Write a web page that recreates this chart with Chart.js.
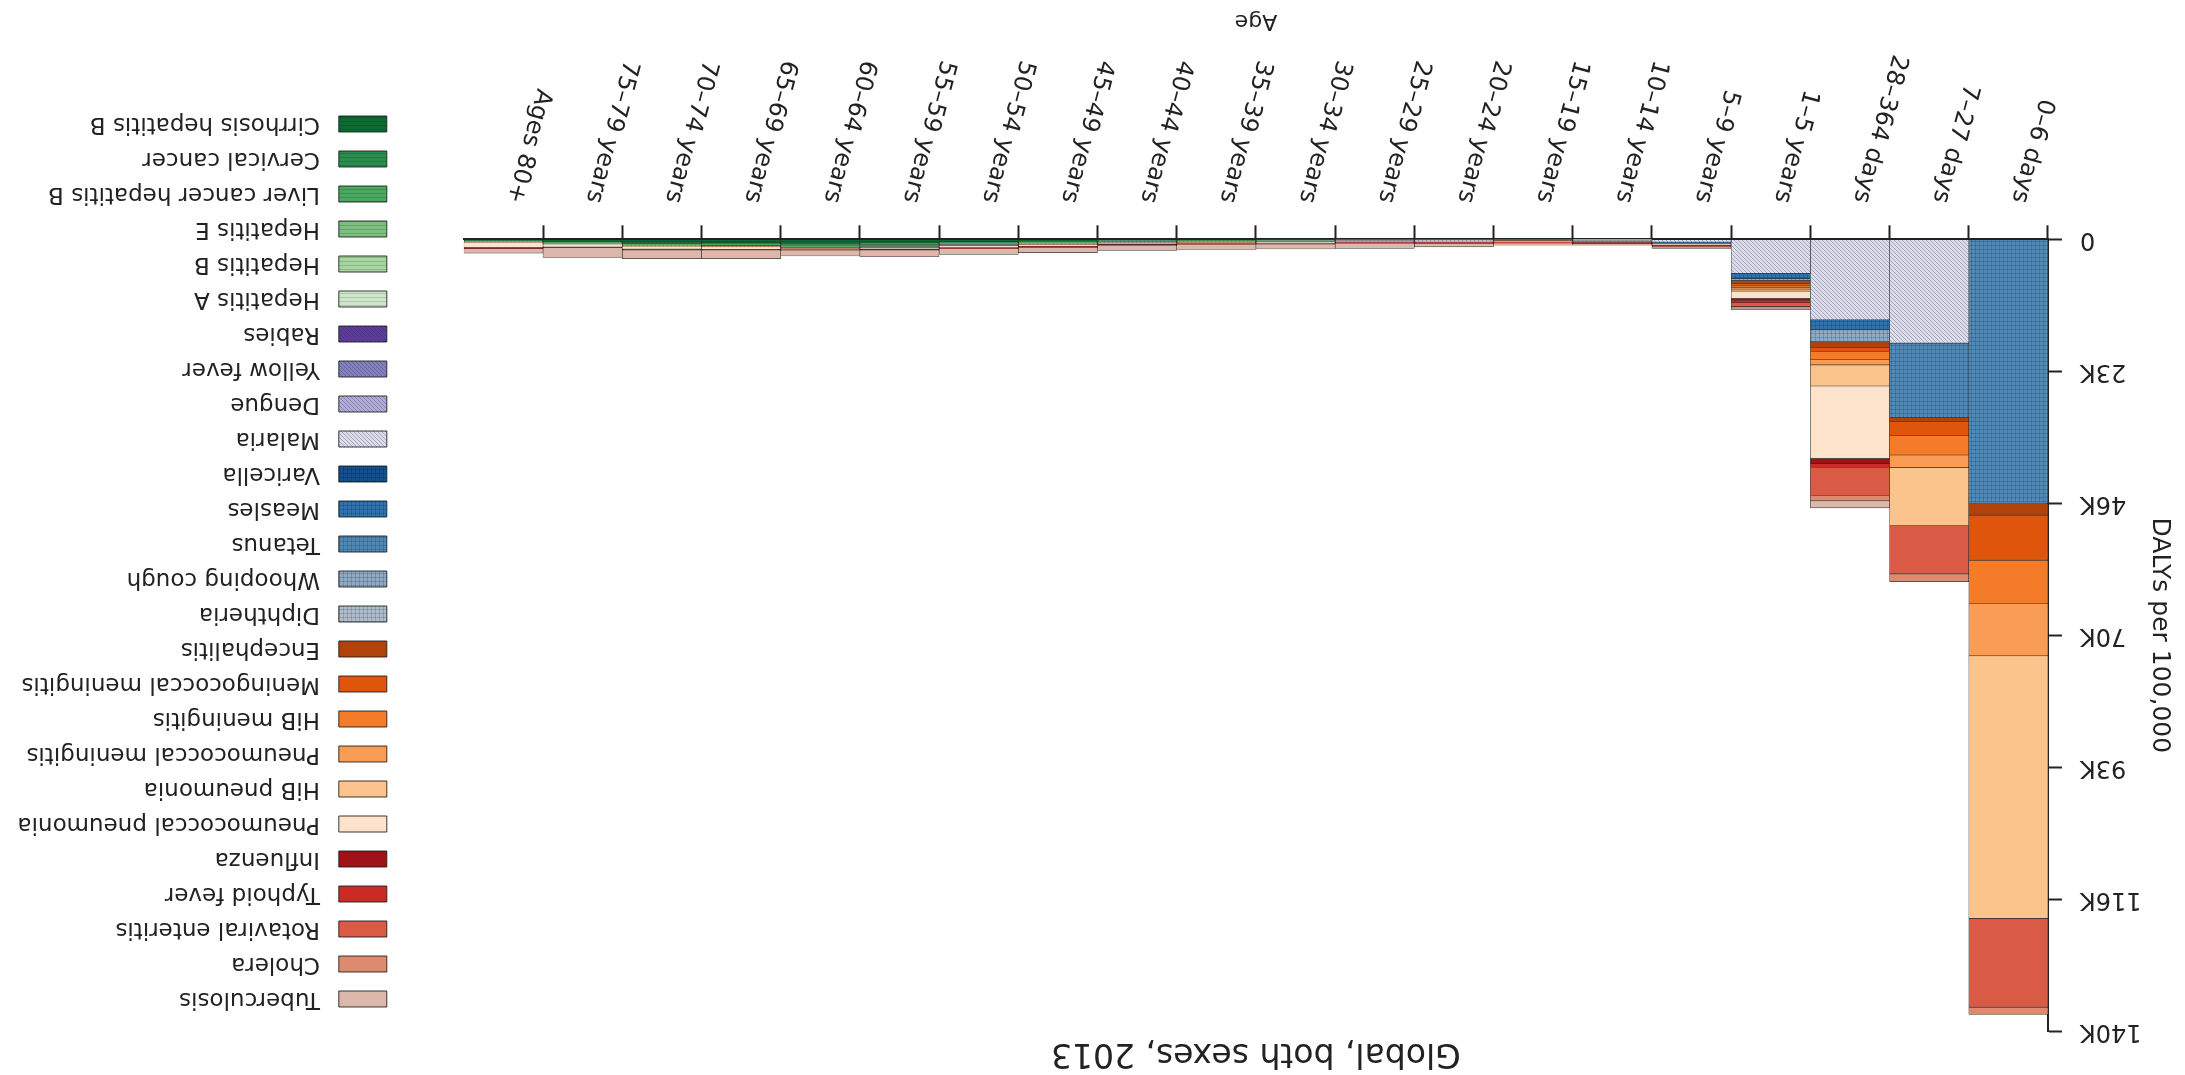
<!DOCTYPE html>
<html>
<head>
<meta charset="utf-8">
<title>DALYs per 100,000 by age, global, both sexes, 2013</title>
<script src="https://cdn.jsdelivr.net/npm/chart.js@4.4.1/dist/chart.umd.min.js"></script>
<style>
  html, body { margin: 0; padding: 0; background: #fff; }
  #wrap { width: 2185px; height: 1075px; transform: rotate(180deg); }
</style>
</head>
<body>
<div id="wrap"><canvas id="chart" width="2185" height="1075"></canvas></div>
<script>
// age groups (x axis)
const ageGroups = ['0–6 days', '7–27 days', '28–364 days', '1–5 years', '5–9 years', '10–14 years',
  '15–19 years', '20–24 years', '25–29 years', '30–34 years', '35–39 years', '40–44 years',
  '45–49 years', '50–54 years', '55–59 years', '60–64 years', '65–69 years', '70–74 years',
  '75–79 years', 'Ages 80+'];

// y axis ticks
const yTickValues = [0, 23333, 46667, 70000, 93333, 116667, 140000];
const yTickLabels = ['0', '23K', '46K', '70K', '93K', '116K', '140K'];

// DALYs per 100,000, one array per cause (stack order, bottom first)
const cirrhosisHepB   = [0, 0, 0, 0, 0, 0, 5, 20, 50, 90, 150, 220, 330, 450, 650, 720, 600, 540, 360, 200];
const cervicalCancer  = [0, 0, 0, 0, 0, 0, 0, 0, 10, 30, 60, 90, 130, 170, 200, 210, 180, 160, 110, 60];
const liverCancerHepB = [0, 0, 0, 0, 0, 0, 0, 10, 20, 30, 60, 100, 170, 250, 420, 500, 380, 340, 220, 140];
const hepatitisE      = [0, 0, 0, 0, 0, 0, 20, 30, 30, 30, 30, 20, 0, 0, 0, 20, 0, 0, 0, 0];
const hepatitisB      = [0, 0, 0, 0, 0, 10, 20, 30, 30, 30, 30, 30, 30, 20, 30, 30, 20, 20, 10, 0];
const hepatitisA      = [0, 0, 0, 0, 0, 10, 0, 0, 0, 0, 0, 0, 0, 0, 0, 0, 0, 0, 0, 0];
const rabies          = [0, 0, 0, 0, 0, 10, 10, 10, 10, 10, 10, 10, 10, 10, 10, 0, 0, 0, 0, 0];
const yellowFever     = [0, 0, 0, 0, 0, 0, 0, 0, 0, 0, 0, 0, 0, 0, 0, 0, 0, 0, 0, 0];
const dengue          = [0, 0, 0, 0, 0, 20, 20, 20, 15, 15, 10, 10, 10, 10, 0, 0, 0, 0, 0, 0];
const malaria         = [0, 18350, 14230, 6000, 500, 200, 120, 120, 110, 110, 100, 100, 110, 110, 90, 70, 70, 60, 50, 40];
const varicella       = [0, 0, 0, 0, 0, 0, 0, 0, 0, 0, 0, 0, 0, 0, 0, 0, 0, 0, 0, 0];
const measles         = [0, 0, 1770, 950, 80, 20, 0, 0, 0, 0, 0, 0, 0, 0, 0, 0, 0, 0, 0, 0];
const tetanus         = [46700, 13100, 0, 0, 0, 0, 0, 0, 0, 0, 0, 0, 0, 0, 0, 0, 0, 0, 0, 0];
const whoopingCough   = [0, 0, 2130, 350, 20, 0, 0, 0, 0, 0, 0, 0, 0, 0, 0, 0, 0, 0, 0, 0];
const diphtheria      = [0, 0, 0, 0, 0, 0, 0, 0, 0, 0, 0, 0, 0, 0, 0, 0, 0, 0, 0, 0];
const encephalitis    = [2040, 710, 940, 450, 90, 60, 40, 40, 35, 35, 30, 35, 40, 40, 40, 30, 30, 30, 20, 20];
const meningococcal   = [7970, 2480, 770, 500, 80, 50, 40, 30, 25, 20, 20, 20, 20, 20, 20, 10, 10, 10, 10, 10];
const hibMeningitis   = [7700, 3490, 1360, 300, 20, 0, 0, 0, 0, 0, 0, 0, 0, 0, 0, 0, 0, 0, 0, 0];
const pneumoMening    = [9210, 2180, 1000, 250, 60, 50, 45, 50, 50, 55, 55, 60, 70, 70, 60, 40, 40, 40, 30, 20];
const hibPneumonia    = [46400, 10270, 3720, 350, 30, 0, 0, 0, 0, 0, 0, 0, 0, 0, 0, 0, 0, 0, 0, 0];
const pneumoPneumonia = [0, 0, 12810, 1300, 150, 90, 90, 120, 130, 160, 150, 200, 300, 310, 260, 180, 420, 540, 550, 950];
const influenza       = [0, 0, 890, 300, 50, 30, 30, 40, 40, 45, 45, 55, 70, 80, 70, 60, 100, 120, 120, 220];
const typhoidFever    = [0, 0, 710, 450, 200, 220, 190, 200, 150, 165, 100, 100, 160, 100, 30, 10, 10, 0, 0, 0];
const rotaviral       = [15690, 8560, 4960, 700, 40, 10, 0, 0, 0, 0, 0, 0, 0, 0, 0, 0, 10, 10, 10, 10];
const cholera         = [1310, 1360, 940, 250, 30, 20, 20, 20, 15, 15, 10, 10, 20, 20, 10, 10, 10, 10, 10, 10];
const tuberculosis    = [0, 0, 1240, 300, 250, 250, 400, 590, 880, 880, 940, 890, 890, 1000, 1180, 1060, 1540, 1540, 1700, 770];

const causeNames = ['Cirrhosis hepatitis B', 'Cervical cancer', 'Liver cancer hepatitis B', 'Hepatitis E',
  'Hepatitis B', 'Hepatitis A', 'Rabies', 'Yellow fever', 'Dengue', 'Malaria', 'Varicella', 'Measles',
  'Tetanus', 'Whooping cough', 'Diphtheria', 'Encephalitis', 'Meningococcal meningitis', 'HiB meningitis',
  'Pneumococcal meningitis', 'HiB pneumonia', 'Pneumococcal pneumonia', 'Influenza', 'Typhoid fever',
  'Rotaviral enteritis', 'Cholera', 'Tuberculosis'];
const causeValues = [cirrhosisHepB, cervicalCancer, liverCancerHepB, hepatitisE, hepatitisB, hepatitisA,
  rabies, yellowFever, dengue, malaria, varicella, measles, tetanus, whoopingCough, diphtheria,
  encephalitis, meningococcal, hibMeningitis, pneumoMening, hibPneumonia, pneumoPneumonia, influenza,
  typhoidFever, rotaviral, cholera, tuberculosis];
const causeColors = ['#0b6b32', '#2a8c4e', '#4aa860', '#7cbf7e', '#a5d6a0', '#cfe5cc', '#5e3c99', '#8580be',
  '#b0add6', '#dcdcec', '#12518f', '#2f73b0', '#4f8ab8', '#8eaac4', '#aebdcc', '#b0420a', '#e0550c',
  '#f47c28', '#f99c55', '#fcc48d', '#fde3cb', '#a0121a', '#cc2a24', '#d95a45', '#dd8a70', '#dbb8ab'];
// texture: h = horizontal lines, d = diagonal hatch, x = grid, '' = plain
const causeHatch = ['h', 'h', 'h', 'h', 'h', 'h', 'd', 'd', 'd', 'd', 'x', 'x', 'x', 'x', 'x',
  '', '', '', '', '', '', '', '', '', '', ''];

const ink = '#222';
Chart.defaults.font.family = '"DejaVu Sans", sans-serif';
Chart.defaults.color = ink;

const ctx = document.getElementById('chart').getContext('2d');

function makeFill(color, hatch) {
  if (!hatch) return color;
  const size = 4;
  const tile = document.createElement('canvas');
  tile.width = size;
  tile.height = size;
  const g = tile.getContext('2d');
  g.fillStyle = color;
  g.fillRect(0, 0, size, size);
  g.strokeStyle = hatch === 'd' ? 'rgba(40, 40, 70, 0.3)' : 'rgba(0, 0, 0, 0.15)';
  g.lineWidth = 1;
  g.beginPath();
  if (hatch === 'h' || hatch === 'x') { g.moveTo(0, 1.5); g.lineTo(size, 1.5); }
  if (hatch === 'x') { g.moveTo(1.5, 0); g.lineTo(1.5, size); }
  if (hatch === 'd') {
    g.moveTo(-1, -1); g.lineTo(size + 1, size + 1);
    g.moveTo(-1, size - 1); g.lineTo(1, size + 1);
    g.moveTo(size - 1, -1); g.lineTo(size + 1, 1);
  }
  g.stroke();
  return ctx.createPattern(tile, 'repeat');
}

const datasets = causeNames.map((name, i) => ({
  label: name,
  data: causeValues[i],
  backgroundColor: makeFill(causeColors[i], causeHatch[i]),
  borderColor: 'rgba(25, 25, 25, 0.85)',
  borderWidth: 0.6,
  borderSkipped: false,
  barPercentage: 1,
  categoryPercentage: 1
}));

new Chart(ctx, {
  type: 'bar',
  data: { labels: ageGroups, datasets },
  options: {
    responsive: false,
    animation: false,
    devicePixelRatio: 1,
    layout: { padding: { right: 7.5 } },
    plugins: {
      title: {
        display: true,
        text: 'Global, both sexes, 2013',
        fullSize: false,
        font: { size: 33, weight: 'normal' },
        color: ink,
        padding: { top: 3, bottom: 1 }
      },
      legend: {
        position: 'right',
        align: 'start',
        reverse: true,
        maxWidth: 420,
        title: { display: true, text: '', font: { size: 10, lineHeight: 1 }, padding: { top: 42.5, bottom: 0 } },
        labels: {
          font: { size: 23 },
          color: ink,
          boxWidth: 48,
          boxHeight: 16,
          padding: 12,
          generateLabels: (chart) => Chart.defaults.plugins.legend.labels.generateLabels(chart)
            .map(item => ({ ...item, text: ' ' + item.text, lineWidth: 1 }))
        }
      },
      tooltip: { enabled: false }
    },
    scales: {
      x: {
        stacked: true,
        grid: {
          offset: true,
          drawOnChartArea: false,
          tickLength: 14,
          tickWidth: 2,
          tickColor: (c) => c.type === 'tick' ? ink : 'rgba(0,0,0,0)'
        },
        border: { display: true, color: ink, width: 2 },
        ticks: {
          font: { size: 24 },
          color: ink,
          autoSkip: false,
          minRotation: 75,
          maxRotation: 75,
          labelOffset: -10,
          padding: 19
        },
        title: {
          display: true,
          text: 'Age',
          font: { size: 22 },
          color: ink,
          padding: { top: -2, bottom: 8 }
        }
      },
      y: {
        stacked: true,
        min: 0,
        max: 140000,
        afterBuildTicks: (scale) => { scale.ticks = yTickValues.map(v => ({ value: v })); },
        afterFit: (scale) => { scale.width = 137; },
        grid: { drawOnChartArea: false, tickLength: 14, tickWidth: 2, tickColor: ink },
        border: { display: true, color: ink, width: 2 },
        ticks: {
          font: { size: 24 },
          color: ink,
          padding: 18,
          callback: (value, index) => yTickLabels[index]
        },
        title: {
          display: true,
          text: 'DALYs per 100,000',
          font: { size: 25 },
          color: ink,
          padding: { top: 10, bottom: 0 }
        }
      },
      spacer: {
        type: 'linear',
        position: 'right',
        display: true,
        afterFit: (scale) => { scale.width = 65; },
        grid: { display: false },
        border: { display: false },
        ticks: { display: false }
      }
    }
  }
});
</script>
</body>
</html>
